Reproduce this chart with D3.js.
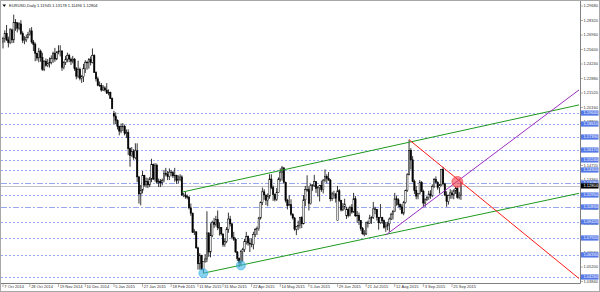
<!DOCTYPE html>
<html>
<head>
<meta charset="utf-8">
<script src="https://cdnjs.cloudflare.com/ajax/libs/d3/7.8.5/d3.min.js"></script>
<style>
  html, body { margin: 0; padding: 0; background: #fff; }
  svg { display: block; }
  text { font-family: "Liberation Sans", "DejaVu Sans", sans-serif; }
</style>
</head>
<body>
<div id="chart"></div>
<script>
(function () {
  'use strict';

  var symbol = 'EURUSD,Daily';
  var lastQuote = ['1.11945', '1.13178', '1.11496', '1.12804'];

  // daily bars: date, open, high, low, close
  var candles = [
    ['2014-10-07',1.2626,1.2680,1.2570,1.2665],['2014-10-08',1.2665,1.2740,1.2625,1.2710],
    ['2014-10-09',1.2710,1.2790,1.2640,1.2650],['2014-10-10',1.2650,1.2680,1.2580,1.2625],
    ['2014-10-13',1.2625,1.2760,1.2610,1.2745],['2014-10-14',1.2745,1.2755,1.2620,1.2650],
    ['2014-10-15',1.2650,1.2887,1.2620,1.2815],['2014-10-16',1.2815,1.2845,1.2735,1.2810],
    ['2014-10-17',1.2810,1.2815,1.2720,1.2760],['2014-10-20',1.2760,1.2815,1.2740,1.2800],
    ['2014-10-21',1.2800,1.2835,1.2695,1.2710],['2014-10-22',1.2710,1.2730,1.2620,1.2645],
    ['2014-10-23',1.2645,1.2685,1.2610,1.2650],['2014-10-24',1.2650,1.2700,1.2630,1.2670],
    ['2014-10-27',1.2670,1.2725,1.2665,1.2700],['2014-10-28',1.2700,1.2760,1.2690,1.2735],
    ['2014-10-29',1.2735,1.2770,1.2615,1.2630],['2014-10-30',1.2630,1.2650,1.2545,1.2610],
    ['2014-10-31',1.2610,1.2625,1.2450,1.2525],['2014-11-03',1.2525,1.2530,1.2455,1.2480],
    ['2014-11-04',1.2480,1.2575,1.2440,1.2545],['2014-11-05',1.2545,1.2560,1.2445,1.2485],
    ['2014-11-06',1.2485,1.2530,1.2360,1.2375],['2014-11-07',1.2375,1.2460,1.2357,1.2450],
    ['2014-11-10',1.2450,1.2475,1.2400,1.2410],['2014-11-11',1.2410,1.2470,1.2395,1.2430],
    ['2014-11-12',1.2430,1.2485,1.2390,1.2440],['2014-11-13',1.2440,1.2505,1.2420,1.2475],
    ['2014-11-14',1.2475,1.2540,1.2435,1.2525],['2014-11-17',1.2525,1.2575,1.2445,1.2470],
    ['2014-11-18',1.2470,1.2545,1.2460,1.2535],['2014-11-19',1.2535,1.2600,1.2515,1.2545],
    ['2014-11-20',1.2545,1.2600,1.2495,1.2545],['2014-11-21',1.2545,1.2555,1.2360,1.2390],
    ['2014-11-24',1.2390,1.2450,1.2375,1.2440],['2014-11-25',1.2440,1.2500,1.2415,1.2470],
    ['2014-11-26',1.2470,1.2530,1.2440,1.2505],['2014-11-27',1.2505,1.2520,1.2440,1.2470],
    ['2014-11-28',1.2470,1.2485,1.2415,1.2450],['2014-12-01',1.2450,1.2500,1.2430,1.2470],
    ['2014-12-02',1.2470,1.2480,1.2360,1.2380],['2014-12-03',1.2380,1.2395,1.2280,1.2310],
    ['2014-12-04',1.2310,1.2455,1.2290,1.2375],['2014-12-05',1.2375,1.2390,1.2270,1.2290],
    ['2014-12-08',1.2290,1.2320,1.2247,1.2305],['2014-12-09',1.2305,1.2425,1.2255,1.2380],
    ['2014-12-10',1.2380,1.2460,1.2340,1.2440],['2014-12-11',1.2440,1.2455,1.2370,1.2440],
    ['2014-12-12',1.2440,1.2480,1.2380,1.2465],['2014-12-15',1.2465,1.2495,1.2410,1.2440],
    ['2014-12-16',1.2440,1.2570,1.2430,1.2505],['2014-12-17',1.2505,1.2515,1.2340,1.2345],
    ['2014-12-18',1.2345,1.2355,1.2260,1.2285],['2014-12-19',1.2285,1.2305,1.2215,1.2225],
    ['2014-12-22',1.2225,1.2260,1.2210,1.2225],['2014-12-23',1.2225,1.2245,1.2165,1.2180],
    ['2014-12-24',1.2180,1.2225,1.2170,1.2200],['2014-12-26',1.2200,1.2215,1.2165,1.2180],
    ['2014-12-29',1.2180,1.2245,1.2145,1.2150],['2014-12-30',1.2150,1.2185,1.2130,1.2155],
    ['2014-12-31',1.2155,1.2165,1.2100,1.2100],['2015-01-02',1.2100,1.2110,1.2000,1.2005],
    ['2015-01-05',1.1960,1.1985,1.1860,1.1935],['2015-01-06',1.1935,1.1970,1.1860,1.1895],
    ['2015-01-07',1.1895,1.1905,1.1810,1.1840],['2015-01-08',1.1840,1.1845,1.1755,1.1795],
    ['2015-01-09',1.1795,1.1865,1.1775,1.1840],['2015-01-12',1.1840,1.1870,1.1795,1.1840],
    ['2015-01-13',1.1840,1.1855,1.1755,1.1775],['2015-01-14',1.1775,1.1810,1.1730,1.1780],
    ['2015-01-15',1.1780,1.1810,1.1570,1.1630],['2015-01-16',1.1630,1.1640,1.1460,1.1565],
    ['2015-01-19',1.1565,1.1645,1.1555,1.1605],['2015-01-20',1.1605,1.1625,1.1525,1.1545],
    ['2015-01-21',1.1545,1.1680,1.1530,1.1610],['2015-01-22',1.1610,1.1680,1.1315,1.1365],
    ['2015-01-23',1.1365,1.1375,1.1115,1.1205],['2015-01-26',1.1205,1.1290,1.1098,1.1240],
    ['2015-01-27',1.1240,1.1420,1.1210,1.1380],['2015-01-28',1.1380,1.1385,1.1275,1.1290],
    ['2015-01-29',1.1290,1.1360,1.1265,1.1320],['2015-01-30',1.1320,1.1355,1.1260,1.1290],
    ['2015-02-02',1.1290,1.1365,1.1270,1.1345],['2015-02-03',1.1345,1.1535,1.1315,1.1480],
    ['2015-02-04',1.1480,1.1490,1.1335,1.1345],['2015-02-05',1.1345,1.1495,1.1320,1.1475],
    ['2015-02-06',1.1475,1.1490,1.1300,1.1315],['2015-02-09',1.1315,1.1350,1.1270,1.1325],
    ['2015-02-10',1.1325,1.1345,1.1270,1.1310],['2015-02-11',1.1310,1.1350,1.1285,1.1330],
    ['2015-02-12',1.1330,1.1430,1.1315,1.1400],['2015-02-13',1.1400,1.1450,1.1370,1.1390],
    ['2015-02-16',1.1390,1.1420,1.1335,1.1370],['2015-02-17',1.1370,1.1445,1.1335,1.1410],
    ['2015-02-18',1.1410,1.1430,1.1370,1.1405],['2015-02-19',1.1405,1.1420,1.1355,1.1375],
    ['2015-02-20',1.1375,1.1450,1.1320,1.1380],['2015-02-23',1.1380,1.1385,1.1300,1.1330],
    ['2015-02-24',1.1330,1.1380,1.1305,1.1340],['2015-02-25',1.1340,1.1390,1.1325,1.1365],
    ['2015-02-26',1.1365,1.1380,1.1185,1.1195],['2015-02-27',1.1195,1.1215,1.1175,1.1195],
    ['2015-03-02',1.1195,1.1230,1.1160,1.1180],['2015-03-03',1.1180,1.1200,1.1155,1.1175],
    ['2015-03-04',1.1175,1.1185,1.1060,1.1075],['2015-03-05',1.1075,1.1115,1.1000,1.1025],
    ['2015-03-06',1.1025,1.1030,1.0840,1.0845],['2015-03-09',1.0845,1.0875,1.0820,1.0850],
    ['2015-03-10',1.0850,1.0855,1.0690,1.0700],['2015-03-11',1.0700,1.0710,1.0495,1.0550],
    ['2015-03-12',1.0550,1.0650,1.0495,1.0630],['2015-03-13',1.0630,1.0635,1.0490,1.0495],
    ['2015-03-16',1.0495,1.0570,1.0462,1.0570],['2015-03-17',1.0570,1.0640,1.0560,1.0595],
    ['2015-03-18',1.0595,1.1043,1.0565,1.0840],['2015-03-19',1.0840,1.0845,1.0615,1.0660],
    ['2015-03-20',1.0660,1.0930,1.0610,1.0815],['2015-03-23',1.0815,1.0955,1.0800,1.0940],
    ['2015-03-24',1.0940,1.0980,1.0885,1.0920],['2015-03-25',1.0920,1.1000,1.0900,1.0965],
    ['2015-03-26',1.0965,1.1050,1.0865,1.0890],['2015-03-27',1.0890,1.0940,1.0815,1.0890],
    ['2015-03-30',1.0890,1.0895,1.0815,1.0830],['2015-03-31',1.0830,1.0835,1.0710,1.0730],
    ['2015-04-01',1.0730,1.0790,1.0710,1.0760],['2015-04-02',1.0760,1.0895,1.0745,1.0875],
    ['2015-04-03',1.0875,1.1030,1.0840,1.0970],['2015-04-06',1.0970,1.1000,1.0900,1.0925],
    ['2015-04-07',1.0925,1.0935,1.0780,1.0800],['2015-04-08',1.0800,1.0850,1.0765,1.0780],
    ['2015-04-09',1.0780,1.0795,1.0655,1.0660],['2015-04-10',1.0660,1.0670,1.0575,1.0600],
    ['2015-04-13',1.0600,1.0610,1.0520,1.0565],['2015-04-14',1.0565,1.0680,1.0530,1.0665],
    ['2015-04-15',1.0665,1.0700,1.0570,1.0685],['2015-04-16',1.0685,1.0785,1.0660,1.0760],
    ['2015-04-17',1.0760,1.0850,1.0730,1.0805],['2015-04-20',1.0805,1.0815,1.0720,1.0745],
    ['2015-04-21',1.0745,1.0785,1.0660,1.0735],['2015-04-22',1.0735,1.0790,1.0705,1.0730],
    ['2015-04-23',1.0730,1.0850,1.0685,1.0825],['2015-04-24',1.0825,1.0885,1.0800,1.0870],
    ['2015-04-27',1.0870,1.0900,1.0820,1.0880],['2015-04-28',1.0880,1.0990,1.0860,1.0980],
    ['2015-04-29',1.0980,1.1135,1.0965,1.1125],['2015-04-30',1.1125,1.1265,1.1100,1.1225],
    ['2015-05-01',1.1225,1.1250,1.1150,1.1195],['2015-05-04',1.1195,1.1200,1.1100,1.1145],
    ['2015-05-05',1.1145,1.1210,1.1090,1.1185],['2015-05-06',1.1185,1.1390,1.1160,1.1345],
    ['2015-05-07',1.1345,1.1390,1.1250,1.1265],['2015-05-08',1.1265,1.1285,1.1140,1.1200],
    ['2015-05-11',1.1200,1.1210,1.1135,1.1155],['2015-05-12',1.1155,1.1260,1.1140,1.1220],
    ['2015-05-13',1.1220,1.1360,1.1215,1.1345],['2015-05-14',1.1345,1.1445,1.1320,1.1410],
    ['2015-05-15',1.1410,1.1468,1.1330,1.1450],['2015-05-18',1.1450,1.1455,1.1300,1.1315],
    ['2015-05-19',1.1315,1.1320,1.1125,1.1145],['2015-05-20',1.1145,1.1160,1.1060,1.1095],
    ['2015-05-21',1.1095,1.1195,1.1090,1.1105],['2015-05-22',1.1105,1.1155,1.1000,1.1015],
    ['2015-05-25',1.1015,1.1025,1.0965,1.0980],['2015-05-26',1.0980,1.0990,1.0860,1.0875],
    ['2015-05-27',1.0875,1.0905,1.0819,1.0900],['2015-05-28',1.0900,1.0955,1.0865,1.0910],
    ['2015-05-29',1.0910,1.0990,1.0880,1.0985],['2015-06-01',1.0985,1.0995,1.0885,1.0925],
    ['2015-06-02',1.0925,1.1195,1.0920,1.1150],['2015-06-03',1.1150,1.1280,1.1090,1.1245],
    ['2015-06-04',1.1245,1.1380,1.1225,1.1245],['2015-06-05',1.1245,1.1275,1.1050,1.1115],
    ['2015-06-08',1.1115,1.1300,1.1105,1.1290],['2015-06-09',1.1290,1.1295,1.1235,1.1285],
    ['2015-06-10',1.1285,1.1385,1.1270,1.1320],['2015-06-11',1.1320,1.1325,1.1215,1.1255],
    ['2015-06-12',1.1255,1.1280,1.1180,1.1265],['2015-06-15',1.1265,1.1290,1.1135,1.1285],
    ['2015-06-16',1.1285,1.1330,1.1225,1.1245],['2015-06-17',1.1245,1.1345,1.1210,1.1335],
    ['2015-06-18',1.1335,1.1435,1.1315,1.1370],['2015-06-19',1.1370,1.1390,1.1305,1.1350],
    ['2015-06-22',1.1350,1.1410,1.1330,1.1335],['2015-06-23',1.1335,1.1345,1.1135,1.1160],
    ['2015-06-24',1.1160,1.1225,1.1140,1.1205],['2015-06-25',1.1205,1.1235,1.1160,1.1205],
    ['2015-06-26',1.1205,1.1215,1.1125,1.1165],['2015-06-29',1.0955,1.1280,1.0955,1.1235],
    ['2015-06-30',1.1235,1.1250,1.1130,1.1145],['2015-07-01',1.1145,1.1150,1.1040,1.1055],
    ['2015-07-02',1.1055,1.1120,1.1045,1.1085],['2015-07-03',1.1085,1.1160,1.1060,1.1110],
    ['2015-07-06',1.1000,1.1085,1.0970,1.1060],['2015-07-07',1.1060,1.1080,1.0985,1.1005],
    ['2015-07-08',1.1005,1.1095,1.0995,1.1080],['2015-07-09',1.1080,1.1110,1.1020,1.1035],
    ['2015-07-10',1.1035,1.1215,1.1030,1.1160],['2015-07-13',1.1160,1.1185,1.0990,1.1000],
    ['2015-07-14',1.1000,1.1045,1.0935,1.1005],['2015-07-15',1.1005,1.1030,1.0915,1.0955],
    ['2015-07-16',1.0955,1.0960,1.0860,1.0880],['2015-07-17',1.0880,1.0895,1.0825,1.0830],
    ['2015-07-20',1.0830,1.0865,1.0808,1.0830],['2015-07-21',1.0830,1.0945,1.0820,1.0935],
    ['2015-07-22',1.0935,1.0955,1.0890,1.0930],['2015-07-23',1.0930,1.1010,1.0925,1.0980],
    ['2015-07-24',1.0980,1.0995,1.0925,1.0985],['2015-07-27',1.0985,1.1130,1.0970,1.1065],
    ['2015-07-28',1.1065,1.1085,1.1015,1.1060],['2015-07-29',1.1060,1.1065,1.0955,1.0985],
    ['2015-07-30',1.0985,1.0990,1.0870,1.0935],['2015-07-31',1.0935,1.1110,1.0925,1.0985],
    ['2015-08-03',1.0985,1.0990,1.0925,1.0955],['2015-08-04',1.0955,1.0965,1.0880,1.0890],
    ['2015-08-05',1.0890,1.0940,1.0850,1.0905],['2015-08-06',1.0905,1.0945,1.0865,1.0925],
    ['2015-08-07',1.0925,1.0985,1.0850,1.0970],['2015-08-10',1.0970,1.1030,1.0960,1.1015],
    ['2015-08-11',1.1015,1.1055,1.0965,1.1040],['2015-08-12',1.1040,1.1215,1.1035,1.1160],
    ['2015-08-13',1.1160,1.1190,1.1095,1.1150],['2015-08-14',1.1150,1.1165,1.1080,1.1105],
    ['2015-08-17',1.1105,1.1115,1.1055,1.1085],['2015-08-18',1.1085,1.1110,1.1015,1.1025],
    ['2015-08-19',1.1025,1.1140,1.1005,1.1125],['2015-08-20',1.1125,1.1245,1.1115,1.1240],
    ['2015-08-21',1.1240,1.1400,1.1225,1.1385],['2015-08-24',1.1385,1.1714,1.1380,1.1615],
    ['2015-08-25',1.1615,1.1635,1.1435,1.1525],['2015-08-26',1.1525,1.1560,1.1315,1.1320],
    ['2015-08-27',1.1320,1.1340,1.1205,1.1240],['2015-08-28',1.1240,1.1280,1.1155,1.1185],
    ['2015-08-31',1.1185,1.1215,1.1155,1.1210],['2015-09-01',1.1210,1.1335,1.1200,1.1315],
    ['2015-09-02',1.1315,1.1325,1.1225,1.1230],['2015-09-03',1.1230,1.1245,1.1085,1.1120],
    ['2015-09-04',1.1120,1.1165,1.1085,1.1150],['2015-09-07',1.1150,1.1185,1.1140,1.1170],
    ['2015-09-08',1.1170,1.1235,1.1150,1.1205],['2015-09-09',1.1205,1.1240,1.1160,1.1190],
    ['2015-09-10',1.1190,1.1295,1.1175,1.1275],['2015-09-11',1.1275,1.1355,1.1260,1.1340],
    ['2015-09-14',1.1340,1.1370,1.1305,1.1315],['2015-09-15',1.1315,1.1325,1.1245,1.1265],
    ['2015-09-16',1.1265,1.1300,1.1210,1.1290],['2015-09-17',1.1290,1.1440,1.1280,1.1435],
    ['2015-09-18',1.1435,1.1460,1.1285,1.1300],['2015-09-21',1.1300,1.1310,1.1185,1.1195],
    ['2015-09-22',1.1195,1.1230,1.1085,1.1135],['2015-09-23',1.1135,1.1200,1.1105,1.1190],
    ['2015-09-24',1.1190,1.1250,1.1160,1.1215],['2015-09-25',1.1215,1.1240,1.1160,1.1195],
    ['2015-09-28',1.1195,1.1250,1.1155,1.1235],['2015-09-29',1.1235,1.1275,1.1205,1.1255],
    ['2015-09-30',1.1255,1.1275,1.1160,1.1175],['2015-10-01',1.1175,1.1225,1.1155,1.11945],
    ['2015-10-02',1.11945,1.13178,1.11496,1.12804]
  ];

  var priceTicks = [1.29680, 1.28320, 1.26960, 1.25600, 1.24240, 1.22880, 1.21520,
                    1.20160, 1.18800, 1.17440, 1.16080, 1.14720, 1.13360, 1.12000,
                    1.10640, 1.09280, 1.07920, 1.06560, 1.05200, 1.03840];

  var dateTicks = [
    ['2014-10-07', '7 Oct 2014'], ['2014-10-28', '28 Oct 2014'], ['2014-11-19', '19 Nov 2014'],
    ['2014-12-10', '10 Dec 2014'], ['2015-01-05', '5 Jan 2015'], ['2015-01-27', '27 Jan 2015'],
    ['2015-02-18', '18 Feb 2015'], ['2015-03-11', '11 Mar 2015'], ['2015-03-31', '31 Mar 2015'],
    ['2015-04-22', '22 Apr 2015'], ['2015-05-14', '14 May 2015'], ['2015-06-05', '5 Jun 2015'],
    ['2015-06-29', '29 Jun 2015'], ['2015-07-21', '21 Jul 2015'], ['2015-08-12', '12 Aug 2015'],
    ['2015-09-03', '3 Sep 2015'], ['2015-09-25', '25 Sep 2015']
  ];

  // horizontal price levels drawn on the chart
  var levels = [1.19640, 1.18610, 1.17390, 1.16170, 1.15240, 1.14300, 1.13080,
                1.11950, 1.10830, 1.09420, 1.07920, 1.06330, 1.04260];
  var dashDotLevels = [1.13080, 1.10830];

  // trend lines: two anchors (date, price), extended to the right edge
  var trendLines = [
    {from: ['2015-02-26', 1.1222], to: ['2015-08-24', 1.1690], color: '#1e9a1e'},
    {from: ['2015-03-16', 1.0462], to: ['2015-07-20', 1.0783], color: '#1e9a1e'},
    {from: ['2015-08-24', 1.1714], to: ['2015-09-30', 1.1344], color: '#ff1a1a'},
    {from: ['2015-08-05', 1.0820], to: ['2015-09-30', 1.1324], color: '#9b2fc0'}
  ];

  var markers = [
    {at: ['2015-03-16', 1.0462], color: '#3cb4e6', r: 4.5},
    {at: ['2015-04-14', 1.0535], color: '#3cb4e6', r: 4.5},
    {at: ['2015-09-30', 1.1318], color: '#f03c46', r: 5.5}
  ];

  var W = 600, H = 292;
  var plot = {left: 1, right: 580, top: 1, bottom: 283};
  var barsInView = 322;
  var fontSize = '4px';

  var index = new Map(candles.map(function (c, i) { return [c[0], i]; }));
  var fmt = d3.format('.5f');

  var x = d3.scaleLinear().domain([0, barsInView]).range([3, plot.right - 1]);
  var y = d3.scaleLinear()
    .domain([priceTicks[priceTicks.length - 1], priceTicks[0]])
    .range([281.5, 6]);

  var svg = d3.select('#chart').append('svg')
    .attr('width', W).attr('height', H)
    .attr('viewBox', '0 0 ' + W + ' ' + H);

  svg.append('rect').attr('width', W).attr('height', H).attr('fill', '#fff');

  svg.append('clipPath').attr('id', 'plotClip')
    .append('rect')
    .attr('x', plot.left).attr('y', plot.top)
    .attr('width', plot.right - plot.left).attr('height', plot.bottom - plot.top);

  var g = svg.append('g').attr('clip-path', 'url(#plotClip)');

  // price levels
  g.selectAll('line.level')
    .data(levels)
    .enter().append('line')
    .attr('class', 'level')
    .attr('x1', plot.left).attr('x2', plot.right)
    .attr('y1', function (d) { return Math.round(y(d)) + 0.5; })
    .attr('y2', function (d) { return Math.round(y(d)) + 0.5; })
    .style('stroke', '#97a8ef')
    .style('stroke-width', 1)
    .style('stroke-dasharray', function (d) {
      return dashDotLevels.indexOf(d) >= 0 ? '6,2,2,2' : '2,2';
    });

  // bid line
  var close = candles[candles.length - 1][4];
  g.append('line')
    .attr('x1', plot.left).attr('x2', plot.right)
    .attr('y1', Math.round(y(close)) + 0.5).attr('y2', Math.round(y(close)) + 0.5)
    .style('stroke', '#c4c4c4').style('stroke-width', 1);

  // candles
  var bar = g.selectAll('g.bar')
    .data(candles)
    .enter().append('g')
    .attr('class', 'bar');

  bar.append('line')
    .attr('x1', function (d, i) { return x(i); })
    .attr('x2', function (d, i) { return x(i); })
    .attr('y1', function (d) { return y(d[2]); })
    .attr('y2', function (d) { return y(d[3]); })
    .style('stroke', '#000')
    .style('stroke-width', 0.8);

  bar.append('rect')
    .attr('x', function (d, i) { return x(i) - 0.7; })
    .attr('width', 1.4)
    .attr('y', function (d) { return y(Math.max(d[1], d[4])); })
    .attr('height', function (d) {
      return Math.max(0.6, Math.abs(y(d[1]) - y(d[4])));
    })
    .style('fill', function (d) { return d[4] >= d[1] ? '#fff' : '#000'; })
    .style('stroke', '#000')
    .style('stroke-width', 0.5);

  // trend lines
  trendLines.forEach(function (t) {
    var i1 = index.get(t.from[0]), i2 = index.get(t.to[0]);
    var slope = (t.to[1] - t.from[1]) / (i2 - i1);
    var endPrice = t.from[1] + slope * (barsInView - i1);
    g.append('line')
      .attr('x1', x(i1)).attr('y1', y(t.from[1]))
      .attr('x2', x(barsInView)).attr('y2', y(endPrice))
      .style('stroke', t.color)
      .style('stroke-width', 1);
  });

  // highlight circles
  g.selectAll('circle.mark')
    .data(markers)
    .enter().append('circle')
    .attr('class', 'mark')
    .attr('cx', function (d) { return x(index.get(d.at[0])); })
    .attr('cy', function (d) { return y(d.at[1]); })
    .attr('r', function (d) { return d.r; })
    .style('fill', function (d) { return d.color; })
    .style('fill-opacity', 0.6)
    .style('stroke', function (d) { return d.color; })
    .style('stroke-opacity', 0.8)
    .style('stroke-width', 0.8);

  // frame and axes
  svg.append('rect')
    .attr('x', 0.5).attr('y', 0.5).attr('width', W - 1).attr('height', H - 1)
    .style('fill', 'none').style('stroke', '#a8a8a8');
  svg.append('line')
    .attr('x1', plot.right + 0.5).attr('x2', plot.right + 0.5)
    .attr('y1', plot.top).attr('y2', plot.bottom + 0.5)
    .style('stroke', '#808080');
  svg.append('line')
    .attr('x1', plot.left).attr('x2', plot.right + 0.5)
    .attr('y1', plot.bottom + 0.5).attr('y2', plot.bottom + 0.5)
    .style('stroke', '#808080');

  // price axis
  var pAxis = svg.append('g');
  pAxis.selectAll('line')
    .data(priceTicks)
    .enter().append('line')
    .attr('x1', plot.right + 0.5).attr('x2', plot.right + 3)
    .attr('y1', function (d) { return y(d); })
    .attr('y2', function (d) { return y(d); })
    .style('stroke', '#808080').style('stroke-width', 0.6);
  pAxis.selectAll('text')
    .data(priceTicks)
    .enter().append('text')
    .attr('x', plot.right + 3.5)
    .attr('y', function (d) { return y(d); })
    .attr('dy', '0.35em')
    .attr('font-size', fontSize)
    .attr('fill', '#333')
    .text(function (d) { return fmt(d); });

  // level labels
  var lvl = svg.append('g').selectAll('g')
    .data(levels)
    .enter().append('g')
    .attr('transform', function (d) { return 'translate(' + (plot.right + 1) + ',' + y(d) + ')'; });
  lvl.append('rect')
    .attr('x', 0).attr('y', -2.6).attr('width', 17.5).attr('height', 5.2)
    .style('fill', '#5578e6');
  lvl.append('text')
    .attr('x', 2.5).attr('dy', '0.35em')
    .attr('font-size', fontSize)
    .attr('fill', '#fff')
    .text(function (d) { return fmt(d); });

  // current price label
  var cur = svg.append('g')
    .attr('transform', 'translate(' + (plot.right + 1) + ',' + y(close) + ')');
  cur.append('rect')
    .attr('x', 0).attr('y', -2.6).attr('width', 17.5).attr('height', 5.2)
    .style('fill', '#000');
  cur.append('text')
    .attr('x', 2.5).attr('dy', '0.35em')
    .attr('font-size', fontSize)
    .attr('fill', '#fff')
    .text(fmt(close));

  // date axis
  var dAxis = svg.append('g');
  dAxis.selectAll('line')
    .data(dateTicks)
    .enter().append('line')
    .attr('x1', function (d) { return x(index.get(d[0])); })
    .attr('x2', function (d) { return x(index.get(d[0])); })
    .attr('y1', plot.bottom + 0.5).attr('y2', plot.bottom + 4)
    .style('stroke', '#808080').style('stroke-width', 0.6);
  dAxis.selectAll('text')
    .data(dateTicks)
    .enter().append('text')
    .attr('x', function (d) { return x(index.get(d[0])) + 1.3; })
    .attr('y', plot.bottom + 5.3)
    .attr('font-size', fontSize)
    .attr('fill', '#333')
    .text(function (d) { return d[1]; });

  // header
  svg.append('path')
    .attr('d', 'M2.5,4.5 L6,4.5 L4.25,7 Z')
    .style('fill', '#000');
  svg.append('text')
    .attr('x', 9).attr('y', 7.2)
    .attr('font-size', fontSize)
    .attr('fill', '#222')
    .text(symbol + '  ' + lastQuote.join(' '));
})();
</script>
</body>
</html>
